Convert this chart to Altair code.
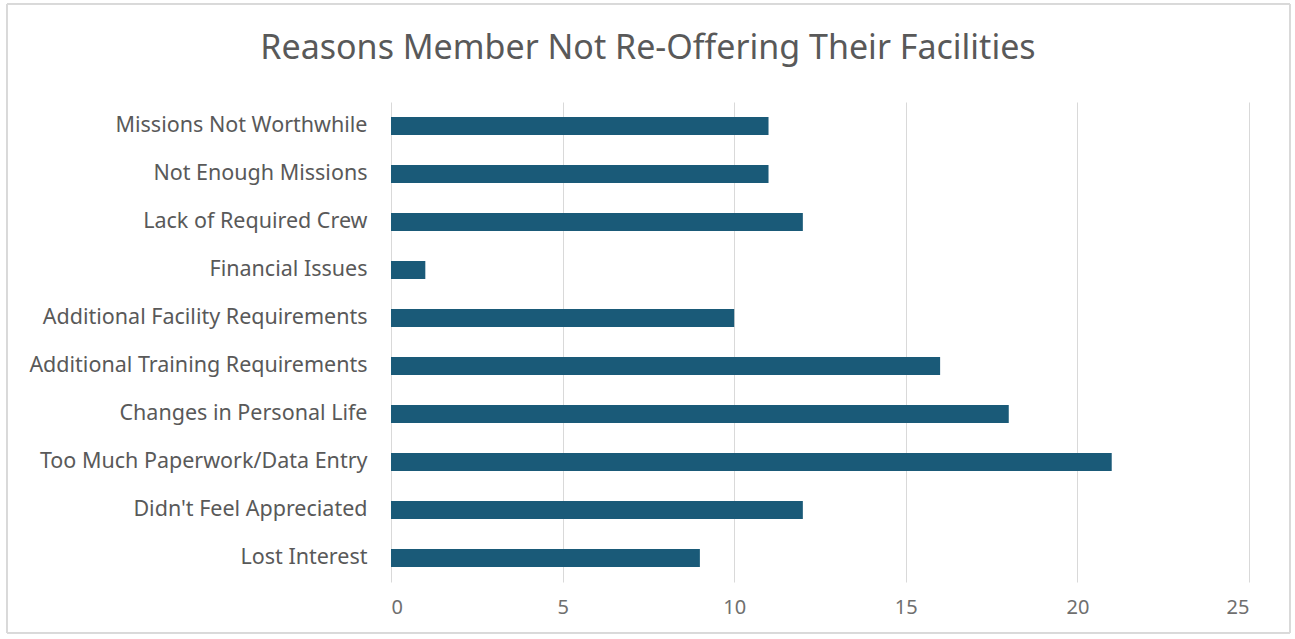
import altair as alt
import pandas as pd

categories = [
    "Missions Not Worthwhile",
    "Not Enough Missions",
    "Lack of Required Crew",
    "Financial Issues",
    "Additional Facility Requirements",
    "Additional Training Requirements",
    "Changes in Personal Life",
    "Too Much Paperwork/Data Entry",
    "Didn't Feel Appreciated",
    "Lost Interest",
]
values = [11, 11, 12, 1, 10, 16, 18, 21, 12, 9]
x_ticks = [0, 5, 10, 15, 20, 25]
title_text = "Reasons Member Not Re-Offering Their Facilities"

df = pd.DataFrame({"reason": categories, "count": values})

FONT = "Noto Sans"
GRAY = "#595959"

bars = alt.Chart(df).mark_bar(color="#1a5a78", height=18).encode(
    x=alt.X("count:Q", scale=alt.Scale(domain=[0, 25], nice=False),
            axis=alt.Axis(values=x_ticks, title=None, grid=True, gridColor="#d9d9d9",
                          domain=False, ticks=False, labelPadding=15, labelFontSize=20,
                          labelColor="#6f6f6f", labelFont=FONT)),
    y=alt.Y("reason:N", sort=categories,
            axis=alt.Axis(title=None, domain=False, ticks=False, labelPadding=24,
                          labelFontSize=21.5, labelColor=GRAY, labelFont=FONT, grid=False,
                          labelLimit=420)),
)

border = alt.Chart(df).mark_rect(fill=None, stroke="#d9d9d9", strokeWidth=1).encode(
    x=alt.value(-384), x2=alt.value(899), y=alt.value(-98), y2=alt.value(531)
)

title = alt.Chart(pd.DataFrame({"t": [title_text]})).mark_text(
    fontSize=34, font=FONT, color=GRAY, align="center", baseline="middle"
).encode(text="t:N", x=alt.value(257), y=alt.value(-53))

chart = alt.layer(border, bars, title).properties(
    width=858, height=480,
    autosize=alt.AutoSizeParams(type="none"),
    padding={"left": 391, "top": 102, "right": 46, "bottom": 57},
).configure_view(stroke=None)

chart.save("out.html", embed_options={"renderer": "svg", "actions": False})
